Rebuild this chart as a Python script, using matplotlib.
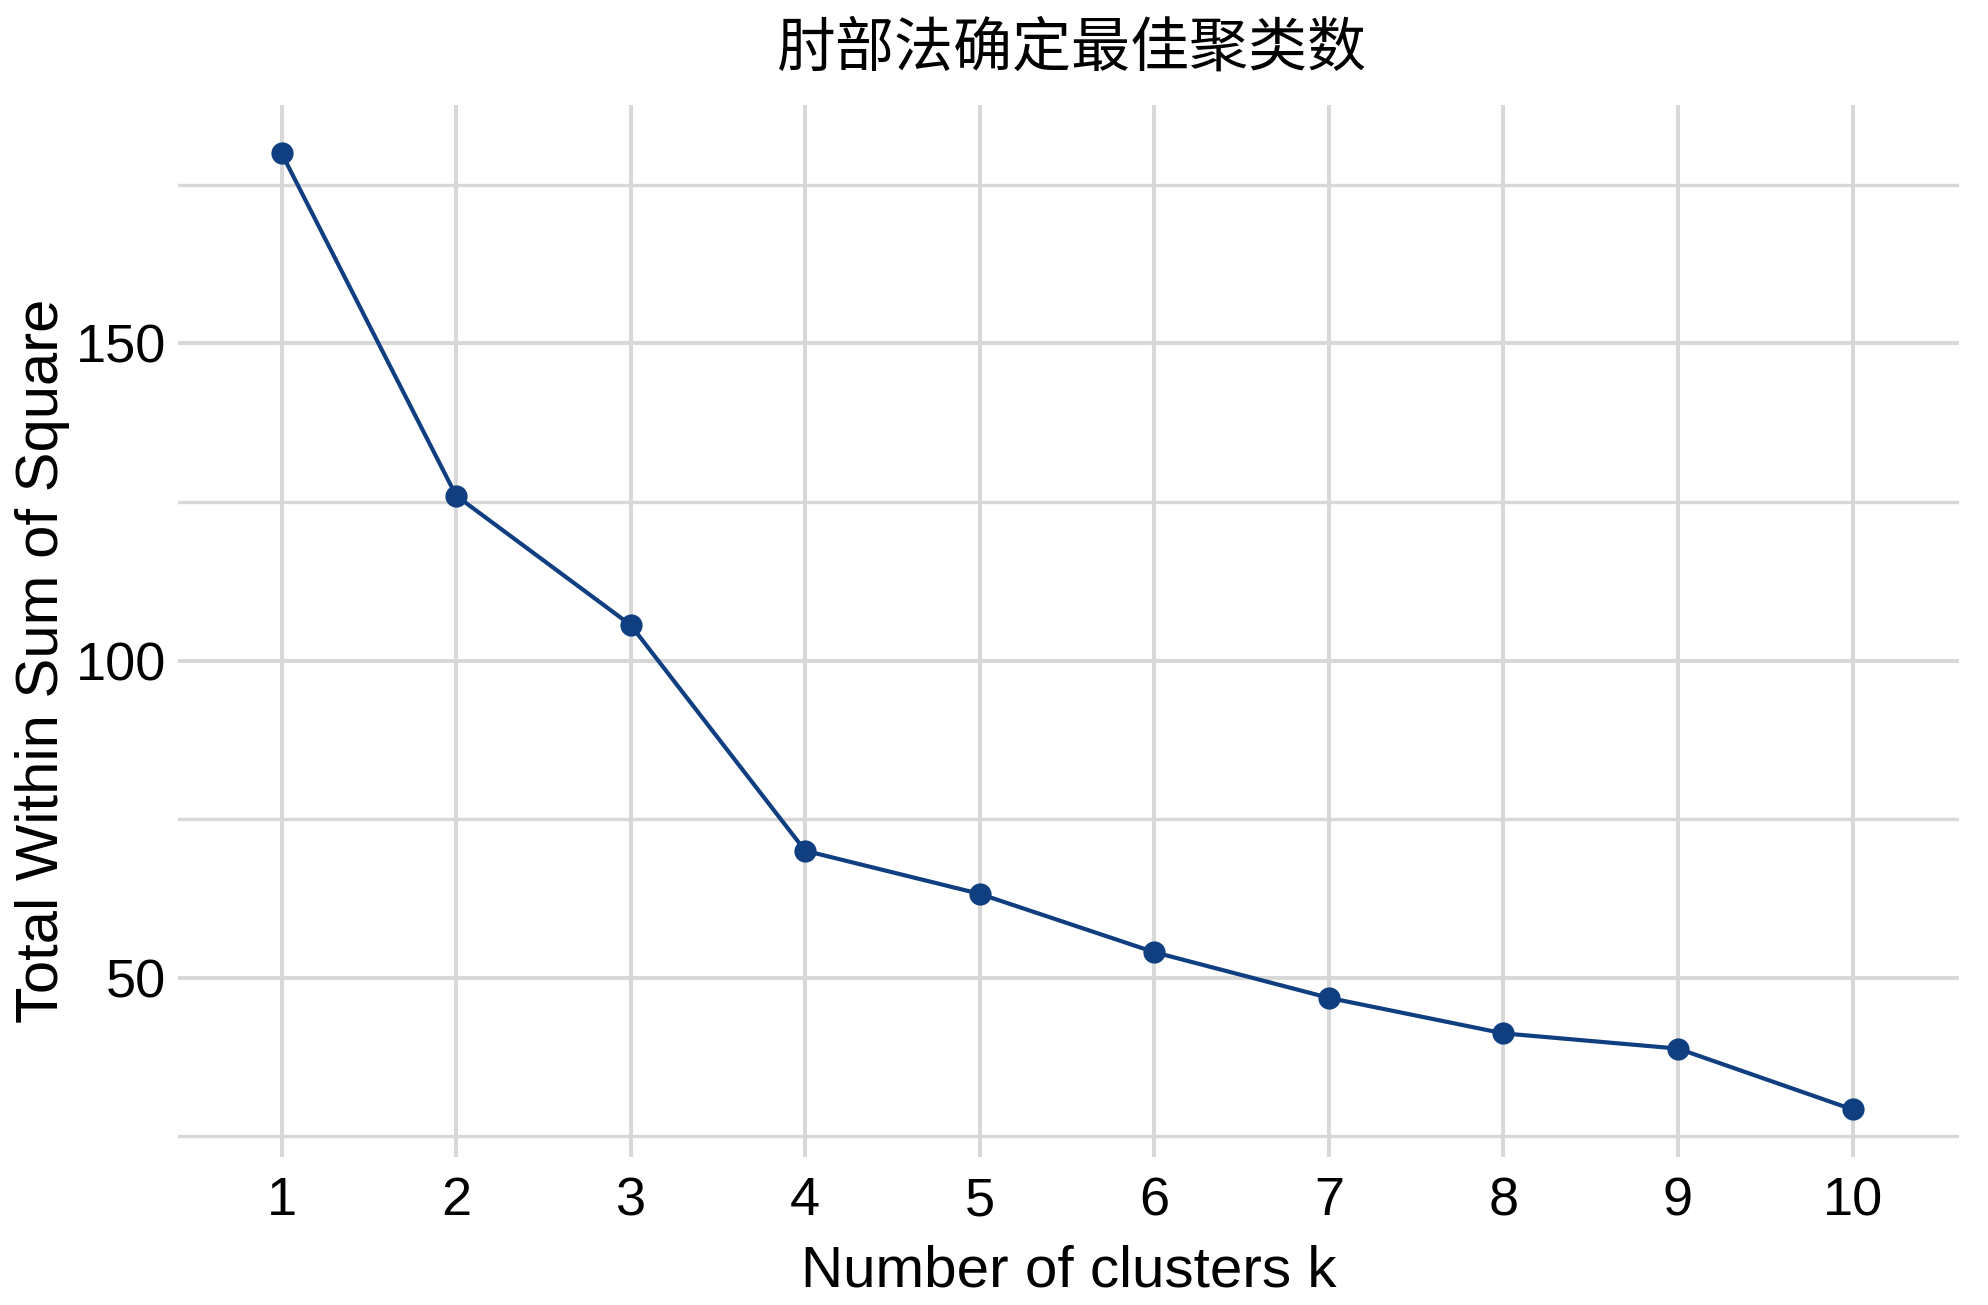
import matplotlib
matplotlib.use("Agg")
import matplotlib.pyplot as plt
from matplotlib.ticker import MultipleLocator

k_values = [1, 2, 3, 4, 5, 6, 7, 8, 9, 10]
wss_values = [180.0, 126.0, 105.6, 70.0, 63.2, 54.0, 46.8, 41.2, 38.8, 29.2]
y_ticks = [50, 100, 150]
title_text = "肘部法确定最佳聚类数"
x_label = "Number of clusters k"
y_label = "Total Within Sum of Square"

plt.rcParams['font.family'] = ['Liberation Sans', 'DejaVu Sans']

fig = plt.figure(figsize=(19.88, 13.05), dpi=100)
ax = fig.add_axes([0.0893, 0.1134, 0.9854 - 0.0893, 0.9195 - 0.1134])

line_color = "#0f3f80"
grid_color = "#d8d8d8"

ax.plot(k_values, wss_values, color=line_color, linewidth=3.0, marker='o',
        markersize=16, markeredgewidth=0, zorder=3)

ax.set_xlim(0.404, 10.61)
ax.set_ylim(21.7, 187.6)
ax.set_xticks(k_values)
ax.set_yticks(y_ticks)
ax.yaxis.set_minor_locator(MultipleLocator(25))

ax.grid(True, which='major', color=grid_color, linewidth=2.9)
ax.grid(True, which='minor', axis='y', color=grid_color, linewidth=2.4)
ax.set_axisbelow(True)

for s in ax.spines.values():
    s.set_visible(False)
ax.tick_params(which='both', length=0)
ax.tick_params(axis='x', labelsize=39, pad=14)
ax.tick_params(axis='y', labelsize=39, pad=8)

ax.set_xlabel(x_label, fontsize=42, labelpad=13)
ax.set_ylabel(y_label, fontsize=43, labelpad=4, y=0.472)

fig.text(0.539, 0.962, title_text, fontsize=42.5, ha='center', va='center',
         family=['Noto Sans CJK SC', 'DejaVu Sans'])

fig.savefig("out.png", dpi=100, facecolor='white')
